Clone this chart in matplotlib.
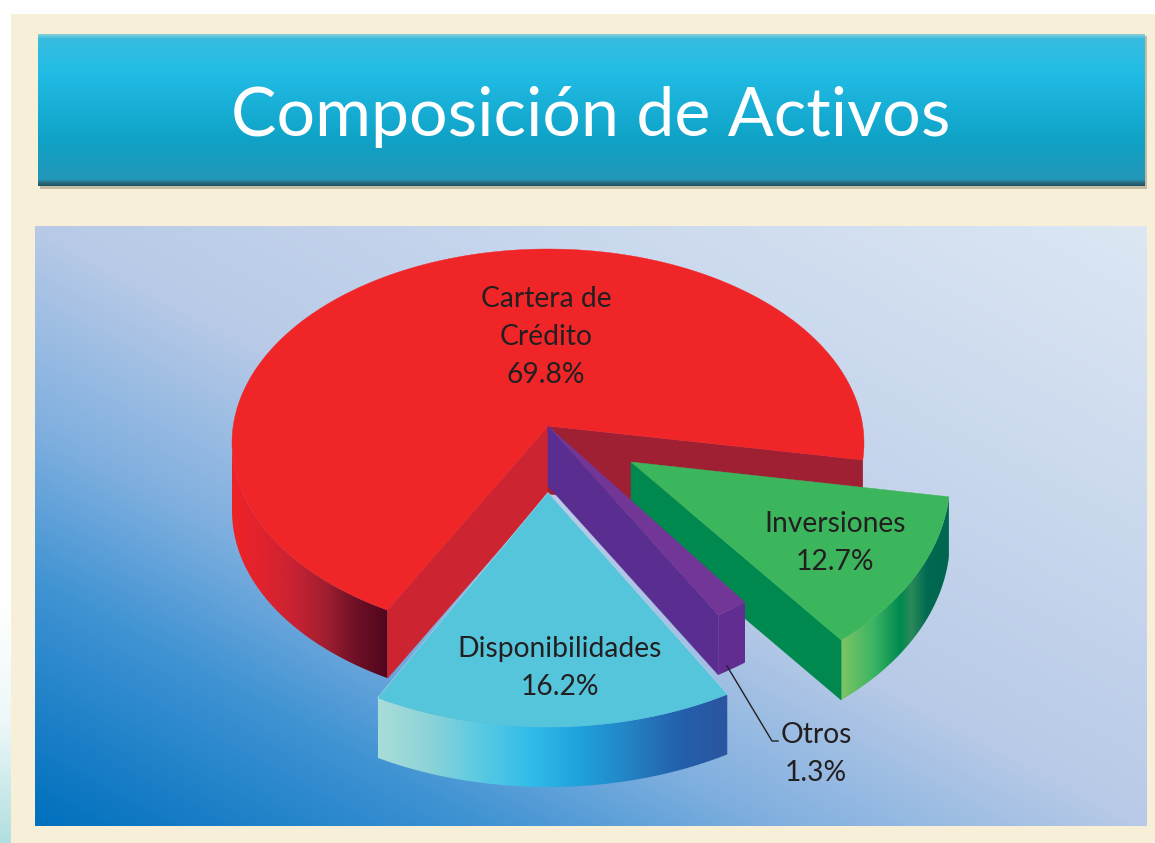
import numpy as np
import matplotlib
matplotlib.use("Agg")
import matplotlib.pyplot as plt
from matplotlib.colors import LinearSegmentedColormap
from matplotlib.patches import Polygon, Rectangle

# chart data
labels = ["Cartera de\nCrédito", "Inversiones", "Otros", "Disponibilidades"]
values = [69.8, 12.7, 1.3, 16.2]

# layout of each slice, in pixels of the 1155x843 picture
apex_x = [548, 631, 548, 548]
apex_y = [426, 462, 426, 493]
rad_x = [316, 319, 316, 340]
rad_y = [194, 214, 204, 217]
start_deg = [-5, -48.8, -57.4, -120]
stretch = [0.973, 0.963, 1.28, 1.06]
depth = [68, 60, 60, 60]
tops = ["#F02528", "#3CB65C", "#723796", "#55C5DC"]
# apex offset of the ellipse centre (perspective)
center_drop = 17

fig = plt.figure(figsize=(11.55, 8.43), dpi=100)
ax = fig.add_axes([0, 0, 1, 1])


def grad_image(data, extent, colors, clip=None, zorder=1):
    cmap = LinearSegmentedColormap.from_list("g", colors)
    im = ax.imshow(data, extent=extent, cmap=cmap, vmin=0, vmax=1, aspect="auto",
                   origin="upper", zorder=zorder, interpolation="bilinear")
    if clip is not None:
        im.set_clip_path(clip)
    return im


def arc(i, t1, t2, n=160):
    t = np.radians(np.linspace(t1, t2, n))
    x = apex_x[i] + rad_x[i] * np.cos(t)
    y = apex_y[i] + center_drop - rad_y[i] * np.sin(t)
    return np.column_stack([x, y])


def poly(points, color, zorder):
    p = Polygon(points, closed=True, facecolor=color, edgecolor=color, linewidth=0.3, zorder=zorder)
    ax.add_patch(p)
    return p


def wall(i, t1, t2, colors, zorder):
    top = arc(i, t1, t2)
    low = top[::-1] + [0, depth[i]]
    p = Polygon(np.vstack([top, low]), closed=True, facecolor="none", edgecolor="none", zorder=zorder)
    ax.add_patch(p)
    x0, x1 = top[:, 0].min(), top[:, 0].max()
    y0, y1 = top[:, 1].min(), top[:, 1].max() + depth[i]
    grad_image(np.linspace(0, 1, 256).reshape(1, -1), (x0, x1, y1, y0),
               colors, clip=p, zorder=zorder)


def cut(i, t, color, zorder):
    a = np.array([apex_x[i], apex_y[i]], dtype=float)
    e = arc(i, t, t, 1)[0]
    d = np.array([0, depth[i]])
    poly([a, e, e + d, a + d], color, zorder)


# page background
ax.add_patch(Rectangle((11, 14), 1144, 829, facecolor="#F8EFD8", edgecolor="none", zorder=0))
grad_image(np.linspace(0, 1, 256).reshape(-1, 1), (0, 11, 843, 600),
           ["#FFFFFF", "#EEF8F8", "#B2DFE0"], zorder=0)

# title banner
ax.add_patch(Rectangle((40, 36), 1107, 153, facecolor="#8A7F6A", alpha=0.45, edgecolor="none", zorder=1))
stops = [(0.0, "#86CFD9"), (0.03, "#38BDE0"), (0.25, "#22BCE6"), (0.7, "#0FA2C6"),
         (0.96, "#2296B8"), (0.975, "#2B6F84"), (1.0, "#1E5566")]
grad_image(np.linspace(0, 1, 256).reshape(-1, 1), (38, 1145, 186, 34), stops, zorder=2)
ax.text(591, 117, "Composición de Activos", color="white", fontsize=49, family="Lato",
        ha="center", va="center", zorder=3)

# chart panel
u, v = np.meshgrid(np.linspace(0, 1, 400), np.linspace(0, 1, 300))
panel = (u + (1 - v)) / 2
panel_stops = [(0.0, "#0070BE"), (0.2, "#3F93D3"), (0.33, "#7FAFDF"), (0.5, "#B8CAE7"),
               (0.75, "#CBD9EE"), (1.0, "#DCE7F3")]
grad_image(panel, (35, 1147, 826, 226), panel_stops, zorder=1)

# red slice
t1 = start_deg[0]
t2 = t1 + values[0] * 3.6 * stretch[0]
wall(0, 180, t2, ["#EE2226", "#E0222E", "#C82233", "#A01F30", "#6E1026", "#50061E"], 4)
cut(0, t2, "#CC2431", 5)
cut(0, t1, "#A02033", 5)
poly(np.vstack([[apex_x[0], apex_y[0]], arc(0, t1, t2, 400)]), tops[0], 6)

# green slice
t1 = start_deg[1]
t2 = t1 + values[1] * 3.6 * stretch[1]
green_wall = [(0.0, "#7DC563"), (0.3, "#3CB563"), (0.55, "#00894F"), (0.65, "#2B8A5A"),
              (0.8, "#006A50"), (1.0, "#00664F")]
wall(1, t1, t2, green_wall, 7)
cut(1, t1, "#00894F", 8)
poly(np.vstack([[apex_x[1], apex_y[1]], arc(1, t1, t2)]), tops[1], 9)

# purple slice
t1 = start_deg[2]
t2 = t1 + values[2] * 3.6 * stretch[2]
cut(2, t1, "#5A2D91", 10)
wall(2, t1, t2, ["#622D91", "#622D91"], 11)
poly(np.vstack([[apex_x[2], apex_y[2]], arc(2, t1, t2)]), tops[2], 12)

# cyan slice
t1 = start_deg[3]
t2 = t1 + values[3] * 3.6 * stretch[3]
wall(3, t1, t2, ["#A8DDD8", "#8DD3D8", "#5CCAE2", "#33BDEA", "#1FA3DD", "#2484C4",
                 "#2361AE", "#2B55A0"], 13)
top3 = np.vstack([[apex_x[3], apex_y[3]], arc(3, t1, t2)])
poly(top3, tops[3], 14)
ax.plot(top3[[1, 0, -1], 0], top3[[1, 0, -1], 1], color="#B9D3EC", lw=1.0, zorder=13.5)

# leader line for Otros
ax.plot([727, 772, 778], [666, 741, 741], color="#231F20", lw=1.0, zorder=15)

# labels
label_x = [546, 835, 816, 560]
label_y = [337, 543, 754, 668]
for i in range(len(values)):
    ax.text(label_x[i], label_y[i], "%s\n%.1f%%" % (labels[i], values[i]), color="#231F20",
            fontsize=20.3, family="Lato", ha="center", va="center", linespacing=1.57, zorder=20)

ax.set_xlim(0, 1155)
ax.set_ylim(843, 0)
ax.axis("off")
fig.savefig("out.png", dpi=100)
